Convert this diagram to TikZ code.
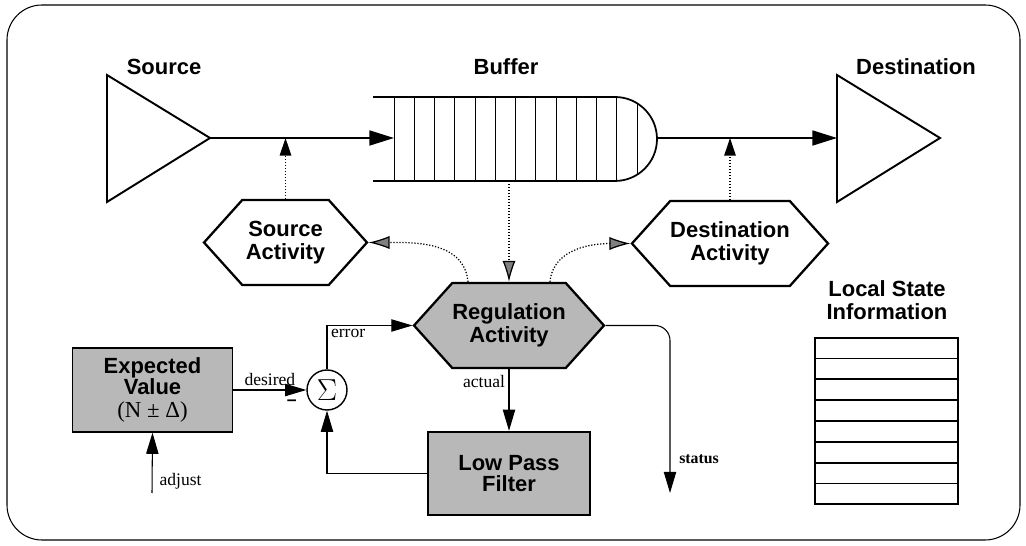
\documentclass[tikz,border=0pt]{standalone}
\usepackage{fontspec}
\setmainfont{Liberation Serif}
\setsansfont{Liberation Sans}
\usepackage{tikz}
\usetikzlibrary{arrows.meta,positioning,calc,shapes.geometric,shapes.symbols}
\definecolor{stipple}{gray}{0.72}
\definecolor{tipgray}{gray}{0.5}
\tikzset{
  lbl/.style     = {font=\sffamily\bfseries\fontsize{12.5}{13}\selectfont,
                     align=center,inner sep=0pt},
  note/.style    = {font=\fontsize{10}{11}\selectfont,inner sep=2pt},
  act/.style     = {signal,signal to=west and east,signal pointer angle=96,
                     draw,line width=1.3pt,minimum width=3.26cm,
                     minimum height=1.7cm,inner sep=0pt,align=center,
                     font=\sffamily\bfseries\fontsize{12.5}{13}\selectfont},
  box/.style     = {draw,line width=1.1pt,fill=stipple,minimum width=3.2cm,
                     minimum height=1.67cm,inner sep=0pt,align=center,
                     font=\sffamily\bfseries\fontsize{12.5}{12}\selectfont},
  sum/.style     = {circle,draw,line width=0.8pt,minimum size=0.8cm,
                     inner sep=0pt,font=\fontsize{16}{16}\selectfont},
  store/.style   = {draw,line width=1.1pt,minimum width=2.86cm,
                     minimum height=3.32cm,inner sep=0pt},
  tri/.style     = {line width=1.1pt,line join=miter},
  frame/.style   = {line width=0.6pt,rounded corners=0.7cm},
  flow/.style    = {-{Triangle[length=14pt,width=8.5pt]},line width=1.1pt},
  sig/.style     = {-{Triangle[length=12pt,width=7pt]},line width=0.6pt},
  ctl/.style     = {-{Triangle[length=10pt,width=6.5pt]},line width=0.7pt,
                     densely dotted},
  ind/.style     = {-{Latex[length=12pt,width=7.5pt,fill=tipgray]},
                     line width=0.7pt,densely dotted},
}

\begin{document}
\begin{tikzpicture}[x=0.02cm,y=0.02cm]
  \useasboundingbox (0,0) rectangle (1026,-546);
  \draw[frame] (7,-5) rectangle (1020,-540);

  % source and destination
  \draw[tri] (107,-75) -- (210,-138) -- (107,-202) -- cycle;
  \draw[tri] (837,-75) -- (940,-138) -- (837,-202) -- cycle;
  \coordinate (srcout) at (210,-138);
  \coordinate (dstin) at (837,-138);
  \node[lbl] (srclbl) at (164,-67) {Source};
  \node[lbl] (buflbl) at (506,-67) {Buffer};
  \node[lbl] (dstlbl) at (916,-67) {Destination};

  % buffer with its slots
  \coordinate (bufin) at (394,-138);
  \coordinate (bufout) at (657,-138);
  \coordinate (bufbot) at (509,-181);
  \begin{scope}
    \clip (373,-97) -- (615,-97) arc[start angle=90,end angle=-90,radius=0.84cm]
      -- (373,-181) -- cycle;
    \foreach \i in {0,...,12}
      \draw[line width=0.5pt] ({394+20.25*\i},-90) -- ++(0,-100);
  \end{scope}
  \draw[line width=1pt] (373,-97) -- (615,-97)
    arc[start angle=90,end angle=-90,radius=0.84cm] -- (373,-181);

  \draw[flow] (srcout) -- (bufin);
  \draw[flow] (bufout) -- (dstin);

  % activities
  \node[act] (srcact) at (285.5,-242.5) {Source\\Activity};
  \node[act] (dstact) at (730,-243.5) {Destination\\Activity};
  \node[act,fill=stipple] (reg) at (509,-325.5) {Regulation\\Activity};

  \draw[ctl] (srcact.north) -- (srcact.north |- srcout);
  \draw[ctl] (dstact.north) -- (dstact.north |- dstin);
  \draw[ind] (bufbot) -- (reg.north);
  \draw[ind] ($(reg.north)+(-41,0)$) to[out=95,in=0] (srcact.east);
  \draw[ind] ($(reg.north)+(41,0)$) to[out=85,in=180] (dstact.west);

  % control loop
  \node[box] (ev) at (152.5,-390)
    {Expected\\Value\\[1.5pt]{\rmfamily\mdseries\fontsize{13}{13}\selectfont (N ± Δ)}};
  \node[sum] (sum) at (327,-390) {$\Sigma$};
  \node[box,minimum width=3.24cm] (lpf) at (509,-473.5) {Low Pass\\Filter};
  \coordinate (adj) at (152,-493);
  \coordinate (stat) at (670,-493);

  \draw[sig] (ev.east) -- node[note,above]{desired}
    node[pos=0.8,below,yshift=-2pt,font=\sffamily\bfseries]{--} (sum.west);
  \draw[sig] (sum.north) |- node[note,pos=0.5,anchor=north west]{error} (reg.west);
  \draw[sig] (reg.south) -- node[note,pos=0.2,left]{actual} (lpf.north);
  \draw[sig] (lpf.west) -| (sum.south);
  \draw[sig] (adj) node[note,anchor=south west,xshift=2pt]{adjust} -- (ev.south);
  \draw[sig,rounded corners=0.3cm] (reg.east) -| node[note,pos=0.9,right,
    xshift=3pt,font=\bfseries\fontsize{9}{10}\selectfont]{status} (stat);

  % local state
  \node[lbl] (lsilbl) at (887,-300) {Local State\\Information};
  \node[store] (lsi) at (886.5,-421) {};
  \foreach \i in {1,...,7}
    \draw[line width=0.6pt] ($(lsi.north west)!\i/8!(lsi.south west)$)
      -- ($(lsi.north east)!\i/8!(lsi.south east)$);
\end{tikzpicture}
\end{document}
